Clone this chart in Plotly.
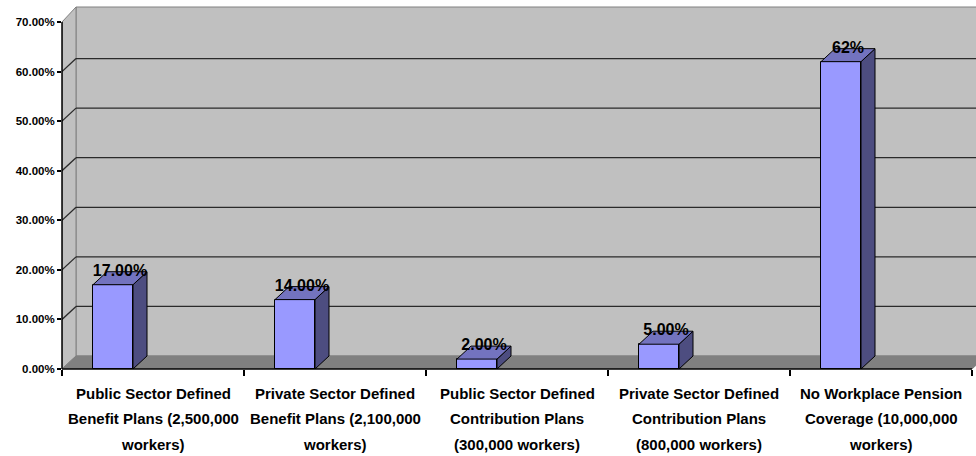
import plotly.graph_objects as go

# ---------------- data ----------------
categories = [
    "Public Sector Defined<br>Benefit Plans (2,500,000<br>workers)",
    "Private Sector Defined<br>Benefit Plans (2,100,000<br>workers)",
    "Public Sector Defined<br>Contribution Plans<br>(300,000 workers)",
    "Private Sector Defined<br>Contribution Plans<br>(800,000 workers)",
    "No Workplace Pension<br>Coverage (10,000,000<br>workers)",
]
values = [0.17, 0.14, 0.02, 0.05, 0.62]
value_labels = ["17.00%", "14.00%", "2.00%", "5.00%", "62%"]
y_ticks = [0.0, 0.1, 0.2, 0.3, 0.4, 0.5, 0.6, 0.7]

# ---------------- geometry / style ----------------
W, H = 976, 456
M_L, M_R, M_T, M_B = 62, 0, 5, 87
PLOT_W = W - M_L - M_R
PLOT_H = H - M_T - M_B
PX_PER_CAT = 182.0
PX_PER_UNIT = 347.0 / 0.7
X_MIN = -0.5
X_MAX = X_MIN + PLOT_W / PX_PER_CAT
Y_MAX = PLOT_H / PX_PER_UNIT
DX = 14.0 / PX_PER_CAT          # depth offset (x, data units)
DY = 13.0 / PX_PER_UNIT         # depth offset (y, data units)
WALL_TOP_EXTRA = 2.0 / PX_PER_UNIT
BAR_OFF = -0.5 + 31.0 / PX_PER_CAT
BAR_W = 40.0 / PX_PER_CAT
N = len(categories)
CAT_END = X_MIN + N

FONT = "Liberation Sans, Arial, sans-serif"
FRONT = "#9999FF"
TOP = "#7373BF"
SIDE = "#4D4D80"
WALL = "#C0C0C0"
FLOOR = "#808080"
EDGE = "#808080"
GRID = "#2a2a2a"

idx = list(range(N))

fig = go.Figure()

# front faces
fig.add_trace(go.Bar(
    x=idx, y=values, offset=BAR_OFF, width=BAR_W,
    marker=dict(color=FRONT, line=dict(color="black", width=1)),
    hoverinfo="skip", showlegend=False,
))

# side & top faces (computed from the data values)
sx, sy, tx, ty = [], [], [], []
for i, v in zip(idx, values):
    xl = i + BAR_OFF
    xr = xl + BAR_W
    sx += [xr, xr + DX, xr + DX, xr, xr, None]
    sy += [0, DY, v + DY, v, 0, None]
    tx += [xl, xr, xr + DX, xl + DX, xl, None]
    ty += [v, v, v + DY, v + DY, v, None]
fig.add_trace(go.Scatter(x=sx, y=sy, mode="lines", fill="toself", fillcolor=SIDE,
                         line=dict(color="black", width=1), hoverinfo="skip", showlegend=False))
fig.add_trace(go.Scatter(x=tx, y=ty, mode="lines", fill="toself", fillcolor=TOP,
                         line=dict(color="black", width=1), hoverinfo="skip", showlegend=False))

# data labels
fig.add_trace(go.Scatter(
    x=[i + BAR_OFF + BAR_W / 2 + DX / 2 for i in idx],
    y=[v + DY for v in values],
    mode="text", text=value_labels, textposition="middle center",
    textfont=dict(family=FONT, size=16, color="black", weight="bold"),
    hoverinfo="skip", showlegend=False, cliponaxis=False,
))

shapes = []
wall_top = y_ticks[-1] + DY + WALL_TOP_EXTRA
# back wall
shapes.append(dict(type="rect", xref="x", yref="y", x0=X_MIN + DX, x1=X_MAX + 1, y0=DY, y1=wall_top,
                   fillcolor=WALL, line=dict(color=EDGE, width=1), layer="below"))
# side wall
shapes.append(dict(type="path", xref="x", yref="y",
                   path=f"M{X_MIN},0 L{X_MIN},{y_ticks[-1]} L{X_MIN+DX},{wall_top} L{X_MIN+DX},{DY} Z",
                   fillcolor=WALL, line=dict(color=EDGE, width=1), layer="below"))
# floor
shapes.append(dict(type="path", xref="x", yref="y",
                   path=f"M{X_MIN},0 L{CAT_END},0 L{CAT_END+DX},{DY} L{X_MIN+DX},{DY} Z",
                   fillcolor=FLOOR, line=dict(color=FLOOR, width=1), layer="below"))
# gridlines on back wall + side wall
for v in y_ticks[1:-1]:
    shapes.append(dict(type="line", xref="x", yref="y", x0=X_MIN + DX, x1=X_MAX + 1, y0=v + DY, y1=v + DY,
                       line=dict(color=GRID, width=1.3), layer="below"))
    shapes.append(dict(type="line", xref="x", yref="y", x0=X_MIN, x1=X_MIN + DX, y0=v, y1=v + DY,
                       line=dict(color=GRID, width=1.3), layer="below"))
# front axis lines
shapes.append(dict(type="line", xref="paper", yref="y", x0=0, x1=0, y0=0, y1=y_ticks[-1],
                   line=dict(color="black", width=1.5), layer="above"))
shapes.append(dict(type="line", xref="x", yref="paper", x0=X_MIN, x1=CAT_END, y0=0, y1=0,
                   line=dict(color="black", width=1.5), layer="above"))

# category labels, one annotation per line for Excel-like line spacing
annotations = []
for i, cat in enumerate(categories):
    for j, line in enumerate(cat.split("<br>")):
        annotations.append(dict(
            x=i, xref="x", y=0, yref="paper", yshift=-(24 + 25.5 * j),
            text=line, showarrow=False, xanchor="center", yanchor="middle",
            font=dict(family=FONT, size=15, color="black", weight="bold"),
        ))

fig.update_layout(
    width=W, height=H,
    margin=dict(l=M_L, r=M_R, t=M_T, b=M_B, pad=0),
    paper_bgcolor="white", plot_bgcolor="white",
    showlegend=False,
    shapes=shapes, annotations=annotations,
    bargap=0,
    xaxis=dict(range=[X_MIN, X_MAX], tickvals=[X_MIN + k for k in range(N + 1)],
               showticklabels=False, ticks="outside", ticklen=6, tickwidth=1.5, tickcolor="black",
               showgrid=False, zeroline=False, showline=False, fixedrange=True),
    yaxis=dict(range=[0, Y_MAX], tickvals=y_ticks, tickformat=".2%",
               ticks="outside", ticklen=4, tickwidth=1.5, tickcolor="black",
               tickfont=dict(family=FONT, size=11.5, color="black", weight="bold"),
               showgrid=False, zeroline=False, showline=False, fixedrange=True),
)

fig.write_html("out.html")
